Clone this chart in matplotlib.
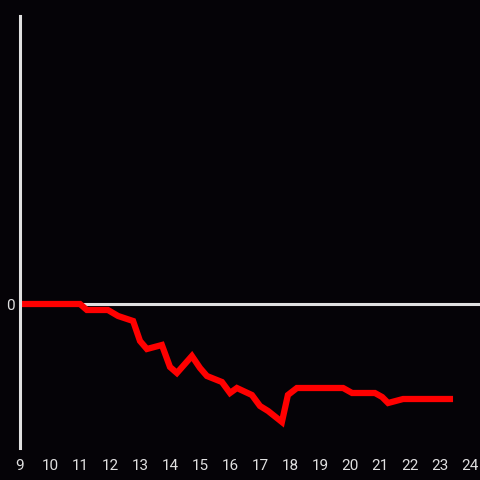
import matplotlib.pyplot as plt

# hours of the day and cumulative value
hours = [9.0, 11.0, 11.23, 11.93, 12.27, 12.77, 13.0, 13.23, 13.73, 14.0,
         14.23, 14.73, 15.0, 15.23, 15.73, 16.0, 16.23, 16.73, 17.0, 17.27,
         17.73, 17.93, 18.23, 19.77, 20.07, 20.83, 21.07, 21.27, 21.77, 23.33]
values = [0.0, 0.0, -0.06, -0.06, -0.12, -0.17, -0.37, -0.45, -0.41, -0.63,
          -0.69, -0.52, -0.64, -0.72, -0.78, -0.89, -0.84, -0.91, -1.02, -1.07,
          -1.18, -0.91, -0.84, -0.84, -0.89, -0.89, -0.93, -0.99, -0.95, -0.95]
xticks = list(range(9, 25))

bg = "#050307"
fg = "#e0e0e0"

plt.rcParams["font.family"] = ["Roboto", "DejaVu Sans"]

fig = plt.figure(figsize=(4.8, 4.8), dpi=100, facecolor=bg)
ax = fig.add_axes([20 / 480, 32 / 480, 460 / 480, 432 / 480])
ax.set_facecolor(bg)

ax.axhline(0, color=fg, lw=2.2, zorder=1)
ax.plot(hours, values, color="#ff0000", lw=4.5, solid_joinstyle="miter", zorder=2)

ax.set_xlim(9, 24.333)
ax.set_ylim(-1.44, 2.88)
ax.set_xticks(xticks)
ax.set_yticks([0])
ax.tick_params(colors=fg, labelsize=11, length=0, pad=8)
ax.tick_params(axis="y", pad=4)

for s in ["top", "right", "bottom"]:
    ax.spines[s].set_visible(False)
ax.spines["left"].set_color(fg)
ax.spines["left"].set_linewidth(2.2)
ax.spines["left"].set_zorder(3)

plt.savefig("out.png", facecolor=bg)
